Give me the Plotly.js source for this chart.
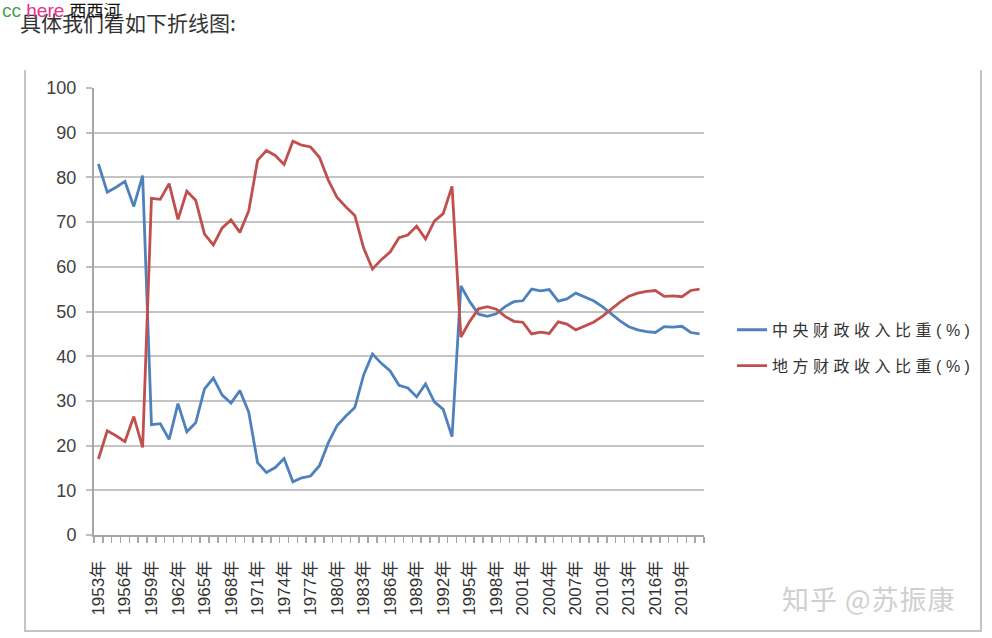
<!DOCTYPE html>
<html>
<head>
<meta charset="utf-8">
<script src="https://cdn.plot.ly/plotly-3.0.1.min.js"></script>
<style>
  body { margin: 0; background: #fff; font-family: "Liberation Sans", "Noto Sans CJK SC", sans-serif; }
  #wrap { position: relative; width: 992px; height: 638px; overflow: hidden; }
  #chart { position: absolute; left: 0; top: 0; width: 992px; height: 638px; }
  #box { position: absolute; left: 24px; top: 70px; width: 954px; height: 560px;
         border-left: 2px solid #c4c4c4; border-right: 2px solid #c4c4c4; border-bottom: 2px solid #c4c4c4; }
  #intro { position: absolute; left: 20px; top: 7px; font-size: 21px; color: #333; font-family: "Noto Sans CJK SC", sans-serif; }
  #tag { position: absolute; left: 2px; top: 1px; font-size: 19px; line-height: 19px; font-family: "Liberation Sans", "Noto Sans CJK SC", sans-serif; }
  #tag .cn { font-size: 17px; }
  #mark { position: absolute; left: 782px; top: 579px; font-size: 27px; letter-spacing: 1px; color: #cfcfcf; font-family: "Noto Sans CJK SC", sans-serif; }
  .legendtext { letter-spacing: 4.5px; }
</style>
</head>
<body>
<div id="wrap">
  <div id="box"></div>
  <div id="chart"></div>
  <div id="intro">具体我们看如下折线图:</div>
  <div id="tag"><span style="color:#3fa34d">cc</span> <span style="color:#e8308c">here</span> <span class="cn" style="color:#111">西西河</span></div>
  <div id="mark">知乎 @苏振康</div>
</div>
<script>
let years = [1953,1954,1955,1956,1957,1958,1959,1960,1961,1962,1963,1964,1965,1966,1967,1968,1969,1970,
  1971,1972,1973,1974,1975,1976,1977,1978,1979,1980,1981,1982,1983,1984,1985,1986,1987,1988,1989,1990,
  1991,1992,1993,1994,1995,1996,1997,1998,1999,2000,2001,2002,2003,2004,2005,2006,2007,2008,2009,2010,
  2011,2012,2013,2014,2015,2016,2017,2018,2019,2020,2021];

// 中央财政收入比重(%)
let central = [83.0,76.7,77.8,79.1,73.5,80.4,24.7,24.9,21.4,29.4,23.1,25.1,32.7,35.1,31.3,29.5,32.3,27.5,
  16.2,14.0,15.1,17.1,11.9,12.8,13.2,15.5,20.6,24.5,26.6,28.5,35.8,40.5,38.4,36.7,33.5,32.9,30.9,33.8,
  29.8,28.1,22.0,55.7,52.2,49.4,48.9,49.5,51.1,52.2,52.4,55.0,54.6,54.9,52.3,52.8,54.1,53.3,52.4,51.1,
  49.4,47.9,46.6,45.9,45.5,45.3,46.6,46.5,46.7,45.3,45.0];

// 地方财政收入比重(%)
let local = [17.0,23.3,22.2,20.9,26.5,19.6,75.3,75.1,78.6,70.6,76.9,74.9,67.3,64.9,68.7,70.5,67.7,72.5,
  83.8,86.0,84.9,82.9,88.1,87.2,86.8,84.5,79.4,75.5,73.4,71.5,64.2,59.5,61.6,63.3,66.5,67.1,69.1,66.2,
  70.2,71.9,78.0,44.3,47.8,50.6,51.1,50.5,48.9,47.8,47.6,45.0,45.4,45.1,47.7,47.2,45.9,46.7,47.6,48.9,
  50.6,52.1,53.4,54.1,54.5,54.7,53.4,53.5,53.3,54.7,55.0];

let labelYears = [1953,1956,1959,1962,1965,1968,1971,1974,1977,1980,1983,1986,1989,1992,1995,1998,
  2001,2004,2007,2010,2013,2016,2019];
let labelText = labelYears.map(y => y + "年");

let fontFam = "Liberation Sans, Noto Sans CJK SC, sans-serif";

var t1 = {
  x: years, y: central, name: '中央财政收入比重(%)', legendgroup: 'a',
  mode: 'lines', line: {color: '#4f81bd', width: 2.8}
};
var t2 = {
  x: years, y: local, name: '地方财政收入比重(%)', legendgroup: 'b',
  mode: 'lines', line: {color: '#c0504d', width: 2.8}
};

var layout = {
  width: 992, height: 638,
  paper_bgcolor: 'rgba(0,0,0,0)', plot_bgcolor: 'rgba(0,0,0,0)',
  margin: {l: 93.5, r: 285.5, t: 87.7, b: 103, pad: 0},
  showlegend: true,
  legend: {
    x: 1.046, y: 0.497, xanchor: 'left', yanchor: 'top',
    traceorder: 'grouped', tracegroupgap: 12,
    font: {family: fontFam, size: 16, color: '#333'}
  },
  xaxis: {
    range: [1952.5, 2021.5],
    tickmode: 'array', tickvals: labelYears, ticktext: labelText,
    tickangle: -90, ticks: '', ticklabelstandoff: 17,
    tickfont: {family: fontFam, size: 17, color: '#333'},
    showgrid: false, zeroline: false,
    showline: true, linecolor: '#a6a6a6', linewidth: 2,
    minor: {tickmode: 'linear', tick0: 1952.5, dtick: 1, ticks: 'outside', ticklen: 6,
            tickcolor: '#a6a6a6', tickwidth: 1.5, showgrid: false}
  },
  yaxis: {
    range: [0, 100], dtick: 10, tick0: 0,
    ticks: 'outside', ticklen: 6, tickcolor: '#bfbfbf', tickwidth: 2,
    ticklabelstandoff: 6,
    tickfont: {family: fontFam, size: 18, color: '#404040'},
    showgrid: true, gridcolor: '#c4c4c4', gridwidth: 2,
    zeroline: false, showline: true, linecolor: '#a6a6a6', linewidth: 2
  }
};

Plotly.newPlot('chart', [t1, t2], layout, {staticPlot: true});
</script>
</body>
</html>
